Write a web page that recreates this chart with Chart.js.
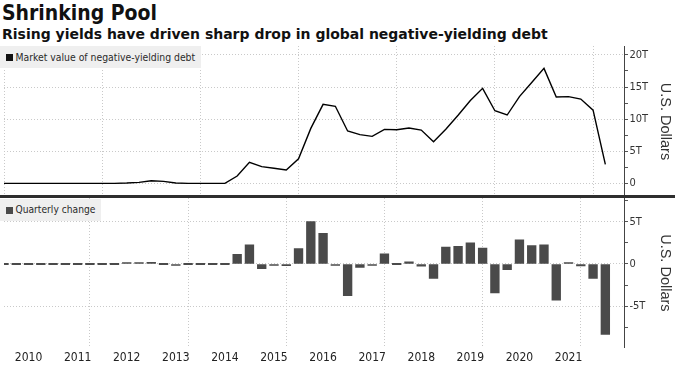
<!DOCTYPE html>
<html><head><meta charset="utf-8">
<script src="https://cdn.jsdelivr.net/npm/chart.js@4"></script>
<style>
html,body{margin:0;padding:0;background:#fff;}
#wrap{position:relative;width:675px;height:379px;overflow:hidden;}
.title{position:absolute;left:2px;top:3px;font-family:"DejaVu Sans Condensed","DejaVu Sans",sans-serif;font-weight:bold;font-size:21px;line-height:1;color:#111;white-space:nowrap;}
.sub{position:absolute;left:2px;top:28px;font-family:"DejaVu Sans",sans-serif;font-weight:bold;font-size:13.5px;line-height:1;color:#111;white-space:nowrap;}
canvas{position:absolute;left:0;}
#c1{top:44px;}
#c2{top:198px;}
.divider{position:absolute;left:0;top:195px;width:675px;height:3px;background:#2e2e2e;}
.leg{position:absolute;left:0;height:22px;background:#efefef;white-space:nowrap;}
.leg i{position:absolute;left:6px;top:8px;width:6.5px;height:6.5px;}
.leg span{position:absolute;left:15.5px;top:0;font-family:"DejaVu Sans Condensed","DejaVu Sans",sans-serif;font-size:11px;line-height:22px;color:#2a2a2a;}
</style>
</head><body>
<div id="wrap">
  <div class="title" id="t1">Shrinking Pool</div>
  <div class="sub" id="t2">Rising yields have driven sharp drop in global negative-yielding debt</div>
  <canvas id="c1" width="675" height="153"></canvas>
  <canvas id="c2" width="675" height="181"></canvas>
  <div class="divider"></div>
  <div class="leg" id="l1" style="top:46px;width:201px;"><i style="background:#111"></i><span>Market value of negative-yielding debt</span></div>
  <div class="leg" id="l2" style="top:199px;width:101px;"><i style="background:#4a4a4a"></i><span>Quarterly change</span></div>
</div>
<script>
// Quarter-end dates (year-month)
const quarterEnds = [
 '2009-12','2010-03','2010-06','2010-09','2010-12','2011-03','2011-06','2011-09','2011-12',
 '2012-03','2012-06','2012-09','2012-12','2013-03','2013-06','2013-09','2013-12',
 '2014-03','2014-06','2014-09','2014-12','2015-03','2015-06','2015-09','2015-12',
 '2016-03','2016-06','2016-09','2016-12','2017-03','2017-06','2017-09','2017-12',
 '2018-03','2018-06','2018-09','2018-12','2019-03','2019-06','2019-09','2019-12',
 '2020-03','2020-06','2020-09','2020-12','2021-03','2021-06','2021-09','2021-12','2022-03'
];
// Market value of negative-yielding debt (trillions USD)
const marketValue = [
 0,0,0,0,0,0,0,0,0,0,
 0.05,0.15,0.4,0.3,0.05,0,0,0,0,
 1.14,3.27,2.6,2.35,2.07,3.83,8.56,12.3,12.0,8.15,7.58,7.32,8.41,8.35,8.61,8.3,6.48,
 8.41,10.6,12.9,14.8,11.3,10.64,13.5,15.7,17.9,13.44,13.5,13.13,11.4,2.96
];
// Quarterly change (trillions USD)
const quarterlyChange = [
 0,0,0,0,0,0,0,0,0,0,
 0.05,0.1,0.2,0,-0.12,0,0,0,0,
 1.14,2.26,-0.55,-0.08,-0.2,1.84,5.02,3.62,-0.05,-3.74,-0.4,-0.16,1.2,0,0.27,-0.27,-1.72,
 2.0,2.1,2.5,1.88,-3.44,-0.66,2.85,2.19,2.27,-4.3,0.04,-0.23,-1.72,-8.36
];
const yearLabels = ['2010','2011','2012','2013','2014','2015','2016','2017','2018','2019','2020','2021'];
const gridYears = [2010,2012,2014,2016,2018,2020,2022];
const topTicks = [0,2.5,5,7.5,10,12.5,15,17.5,20];
const bottomTicks = [-7.5,-5,-2.5,0,2.5,5,7.5];

// --- fit HTML text widths to the reference layout ---
function fitWidth(el, target) {
  const base = parseFloat(getComputedStyle(el).fontSize);
  const w = el.getBoundingClientRect().width;
  el.style.fontSize = (base * target / w) + 'px';
  return base * target / w;
}
const fsT = fitWidth(document.getElementById('t1'), 155);
document.getElementById('t1').style.top = (21 - 0.846 * fsT) + 'px';
const fsS = fitWidth(document.getElementById('t2'), 546);
document.getElementById('t2').style.top = (39 - 0.846 * fsS) + 'px';
fitWidth(document.querySelector('#l1 span'), 180);
fitWidth(document.querySelector('#l2 span'), 80);

const toYear = s => { const [y,m] = s.split('-').map(Number); return y + m/12; };
const xs = quarterEnds.map(toYear);
const labelPos = yearLabels.map(y => Number(y) + 0.5);

const NARROW = '"Liberation Sans Narrow","DejaVu Sans Condensed",sans-serif';
const GRID = '#c9c9c9';
const fmt = v => v === 0 ? '0' : (v % 5 === 0 ? v + 'T' : '');
const X_MIN = 2010, X_MAX = 2022.63;
const noPad = s => { s.paddingTop = 0; s.paddingBottom = 0; s.paddingLeft = 0; s.paddingRight = 0; };

function yAxis(min, max, ticks) {
  return {
    position: 'right', min, max,
    afterBuildTicks: s => { s.ticks = ticks.map(v => ({value: v})); },
    ticks: {callback: fmt, font: {family: NARROW, size: 11}, color: '#333', padding: 1.5, autoSkip: false},
    grid: {
      color: c => (c.tick && c.tick.value % 5 === 0) ? GRID : 'rgba(0,0,0,0)',
      tickColor: '#555', tickLength: 4, lineWidth: 1
    },
    border: {display: true, color: '#444', width: 1, dash: [1, 2]},
    title: {display: true, text: 'U.S. Dollars', color: '#333',
      font: {family: '"Liberation Sans",Arial,sans-serif', size: 14.5}, padding: {top: 1, bottom: 0}},
    afterFit: s => { s.width = 51; noPad(s); }
  };
}

new Chart(document.getElementById('c1'), {
  type: 'line',
  data: {datasets: [{
    data: xs.map((x, i) => ({x, y: marketValue[i]})),
    borderColor: '#000', borderWidth: 1.4, pointRadius: 0, tension: 0, fill: false
  }]},
  options: {
    responsive: false, animation: false, events: [],
    layout: {padding: {left: 4, top: 2, right: 0, bottom: 0}},
    plugins: {legend: {display: false}, tooltip: {enabled: false}},
    scales: {
      x: {
        type: 'linear', min: X_MIN, max: X_MAX,
        afterBuildTicks: s => { s.ticks = gridYears.map(v => ({value: v})); },
        ticks: {display: false},
        grid: {color: GRID, drawTicks: false, lineWidth: 1},
        border: {display: false, dash: [1, 2]},
        afterFit: s => { s.height = 0; noPad(s); }
      },
      y: yAxis(-2.13, 21.39, topTicks)
    }
  }
});

const tickVals = gridYears.concat(labelPos).sort((a, b) => a - b);
new Chart(document.getElementById('c2'), {
  type: 'bar',
  data: {datasets: [{
    data: xs.map((x, i) => ({x, y: quarterlyChange[i]})),
    backgroundColor: '#4a4a4a', borderWidth: 0, barThickness: 8.7, minBarLength: 1.4
  }]},
  options: {
    responsive: false, animation: false, events: [],
    layout: {padding: {left: 4, top: 0, right: 0, bottom: 0}},
    plugins: {legend: {display: false}, tooltip: {enabled: false}},
    scales: {
      x: {
        type: 'linear', min: X_MIN, max: X_MAX, offset: false,
        afterBuildTicks: s => { s.ticks = tickVals.map(v => ({value: v})); },
        ticks: {
          autoSkip: false, maxRotation: 0, minRotation: 0, padding: 3,
          font: {family: NARROW, size: 12}, color: '#222',
          callback: v => { const i = labelPos.indexOf(v); return i >= 0 ? yearLabels[i] : ''; }
        },
        grid: {
          color: c => (c.tick && gridYears.includes(c.tick.value)) ? GRID : 'rgba(0,0,0,0)',
          drawTicks: false, lineWidth: 1
        },
        border: {display: false, dash: [1, 2]},
        afterFit: s => { s.height = 31.3; noPad(s); }
      },
      y: yAxis(-9.92, 7.82, bottomTicks)
    }
  }
});
</script>
</body></html>
